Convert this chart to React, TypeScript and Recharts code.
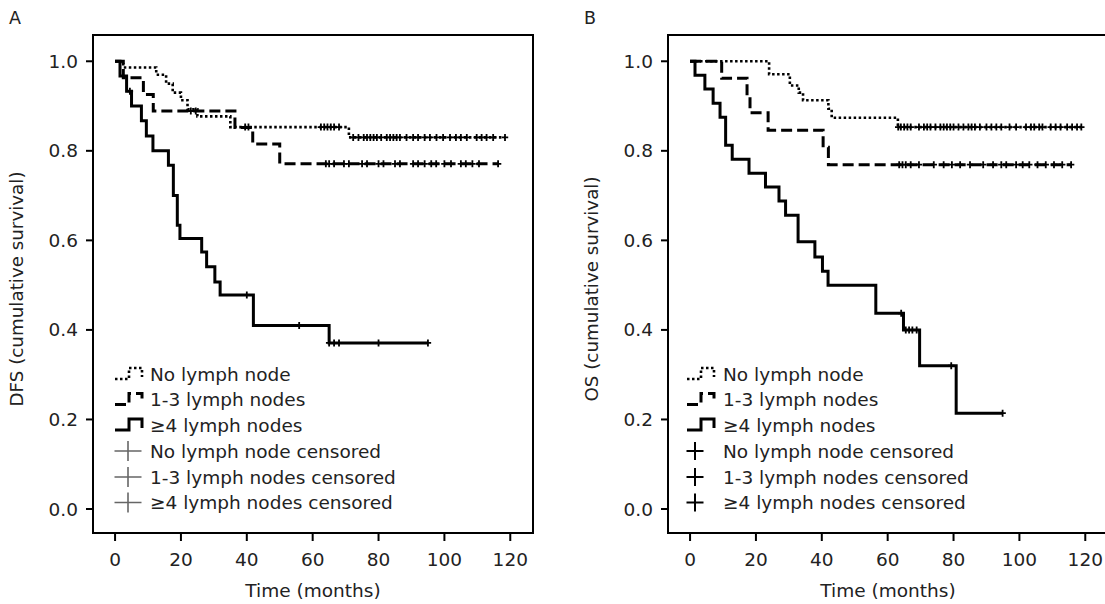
import React from 'react';
import { ComposedChart, Line, Scatter, XAxis, YAxis, ReferenceArea } from 'recharts';

type Step = [number, number];

// ---------- data ----------
const xTicks = [0, 20, 40, 60, 80, 100, 120];
const yTicks = [0, 0.2, 0.4, 0.6, 0.8, 1.0];
const groupLabels = ['No lymph node', '1-3 lymph nodes', '\u22654 lymph nodes'];
const censorLabels = ['No lymph node censored', '1-3 lymph nodes censored', '\u22654 lymph nodes censored'];

// Panel A: DFS
const dfsNone: Step[] = [[0, 1], [2.5, 0.986], [12.5, 0.97], [15.5, 0.95], [17.5, 0.93], [20, 0.913], [22, 0.893], [25, 0.877], [35, 0.853], [71, 0.83], [118.4, 0.83]];
const dfsOne: Step[] = [[0, 1], [2.5, 0.963], [8.6, 0.926], [11.6, 0.889], [36.4, 0.852], [41.8, 0.815], [50, 0.771], [116.3, 0.771]];
const dfsFour: Step[] = [[0, 1], [1.5, 0.967], [3.5, 0.933], [5, 0.9], [8, 0.867], [9.5, 0.833], [11.5, 0.8], [16.2, 0.768], [17.7, 0.7], [18.9, 0.634], [19.7, 0.604], [26.3, 0.574], [27.8, 0.541], [30.3, 0.507], [31.9, 0.478], [42, 0.41], [65, 0.371], [95, 0.371]];
const dfsNoneCensor = [39.5, 40.5, 62.5, 63.5, 64.5, 65.5, 66.5, 68, 72.3, 73.9, 75.5, 76.5, 77.5, 78.5, 79.5, 80.8, 82.5, 83.5, 84.5, 85.5, 86.5, 88.5, 90.5, 92, 94, 95.6, 97.6, 99.6, 101.7, 103.5, 105, 106.8, 109.8, 111.3, 112.8, 114.8, 118.4];
const dfsOneCensor = [23, 24.5, 64, 65, 66.5, 69.5, 71, 75, 76.5, 80, 81.5, 85, 86.5, 90.5, 92, 94, 96, 97.5, 100, 102, 105, 106.5, 108.5, 110.5, 116.3];
const dfsFourCensor = [4.5, 40, 55.9, 65, 66.5, 68, 80, 95];

// Panel B: OS
const osNone: Step[] = [[0, 1], [24, 0.971], [30.3, 0.946], [33, 0.93], [34.3, 0.913], [42, 0.894], [43, 0.874], [63.1, 0.853], [118.8, 0.853]];
const osOne: Step[] = [[0, 1], [9.6, 0.962], [17.3, 0.923], [18.2, 0.885], [23.7, 0.846], [40.4, 0.808], [42, 0.769], [115.7, 0.769]];
const osFour: Step[] = [[0, 1], [1.5, 0.969], [4.5, 0.938], [7, 0.906], [9.1, 0.875], [10.8, 0.8125], [12.8, 0.781], [17.9, 0.75], [22.9, 0.719], [27, 0.688], [29, 0.656], [32.8, 0.597], [37.9, 0.563], [40.2, 0.531], [41.9, 0.5], [56.4, 0.437], [64.8, 0.4], [69.7, 0.32], [80.8, 0.214], [94.9, 0.214]];
const osNoneCensor = [63.2, 64, 65, 66, 67, 69.5, 71, 72, 73, 74.5, 76, 77, 78, 79, 80, 81.5, 83, 84.5, 85.5, 86.5, 88, 90, 91.5, 93, 94.5, 97, 99, 102, 103.5, 104.5, 106, 107, 109.5, 111, 112.5, 114.5, 116, 117.5, 118.8];
const osOneCensor = [63.5, 64.5, 65.5, 67, 69.5, 74, 77, 79.5, 82, 85, 89, 92, 94.5, 96, 99, 101, 103, 105.5, 108, 110.5, 113, 115.7];
const osFourCensor = [64.1, 65.5, 66.5, 67.5, 68.8, 79.3, 94.9];

// ---------- helpers ----------
const toPts = (steps: Step[]) => steps.map(([t, s]) => ({ t, s }));
const levelAt = (steps: Step[], t: number) => {
  let s = steps[0][1];
  for (const [tt, ss] of steps) if (tt <= t) s = ss;
  return s;
};
const censorPts = (steps: Step[], times: number[]) => times.map((t) => ({ t, s: levelAt(steps, t) }));

const FONT = '"DejaVu Sans", "Liberation Sans", Arial, sans-serif';
const TXT = '#222';
const X_DOMAIN: [number, number] = [-6.7, 126.9];
const Y_DOMAIN: [number, number] = [-0.0536, 1.0587];
const W = 553;
const H = 604;

const lineStyles = [
  { dash: '2.5 2.5', width: 2.6 },
  { dash: '11 5', width: 3 },
  { dash: undefined as string | undefined, width: 3 },
];

const Cross = (props: any) => {
  const { cx, cy } = props;
  if (cx == null || cy == null) return null;
  return (
    <path d={`M${cx - 3.2},${cy} H${cx + 3.2} M${cx},${cy - 3.5} V${cy + 3.5}`} stroke="#000" strokeWidth={1.8} fill="none" />
  );
};

type PanelProps = {
  left: number;
  letter: string;
  yTitle: string;
  curves: Step[][];
  censors: number[][];
  legend: { iconX: number; textX: number; crossX: number; crossHalfW: number; crossHalfH: number; crossColor: string; crossWidth: number };
};

const legendRows = [374, 399.5, 425, 451, 477, 502.5];

const Panel = ({ left, letter, yTitle, curves, censors, legend }: PanelProps) => {
  return (
    <div style={{ position: 'absolute', left, top: 0, width: W, height: H }}>
      <ComposedChart width={W} height={H} margin={{ top: 35, right: 20, bottom: 31, left: 33 }}>
        <XAxis
          type="number"
          dataKey="t"
          domain={X_DOMAIN}
          ticks={xTicks}
          interval={0}
          allowDataOverflow
          height={40}
          tickSize={8}
          tickMargin={12}
          axisLine={{ stroke: '#000', strokeWidth: 2 }}
          tickLine={{ stroke: '#000', strokeWidth: 2 }}
          tick={{ fill: TXT, fontSize: 18.5, fontFamily: FONT }}
        />
        <YAxis
          type="number"
          dataKey="s"
          domain={Y_DOMAIN}
          ticks={yTicks}
          interval={0}
          allowDataOverflow
          width={60}
          tickSize={7}
          tickMargin={8}
          tickFormatter={(v: number) => v.toFixed(1)}
          axisLine={{ stroke: '#000', strokeWidth: 2 }}
          tickLine={{ stroke: '#000', strokeWidth: 2 }}
          tick={{ fill: TXT, fontSize: 18.5, fontFamily: FONT }}
        />
        <ReferenceArea x1={X_DOMAIN[0]} x2={X_DOMAIN[1]} y1={Y_DOMAIN[0]} y2={Y_DOMAIN[1]} fill="none" fillOpacity={0} stroke="#000" strokeWidth={2} ifOverflow="visible" />
        {curves.map((c, i) => (
          <Line
            key={'l' + i}
            data={toPts(c)}
            dataKey="s"
            type="stepAfter"
            stroke="#000"
            strokeWidth={lineStyles[i].width}
            strokeDasharray={lineStyles[i].dash}
            strokeLinecap="butt"
            dot={false}
            activeDot={false}
            isAnimationActive={false}
          />
        ))}
        {censors.map((times, i) => (
          <Scatter key={'c' + i} data={censorPts(curves[i], times)} dataKey="s" shape={<Cross />} isAnimationActive={false} />
        ))}
      </ComposedChart>
      <svg width={W} height={H} style={{ position: 'absolute', left: 0, top: 0, pointerEvents: 'none' }}>
        <text x={9} y={24} fontSize={17.5} fontFamily={FONT} fill={TXT}>{letter}</text>
        <text
          x={0}
          y={0}
          transform={`translate(23,289) rotate(-90)`}
          textAnchor="middle"
          fontSize={18.3}
          fontFamily={FONT}
          fill={TXT}
        >
          {yTitle}
        </text>
        <text x={313} y={597} textAnchor="middle" fontSize={18.5} fontFamily={FONT} fill={TXT}>Time (months)</text>
        {groupLabels.map((lab, i) => {
          const y = legendRows[i];
          const x0 = legend.iconX;
          return (
            <g key={'g' + i}>
              <path
                d={`M${x0},${y + 5} H${x0 + 14} V${y - 6} H${x0 + 27} V${y + 3}`}
                stroke="#000"
                strokeWidth={lineStyles[i].width}
                strokeDasharray={lineStyles[i].dash}
                fill="none"
              />
              <text x={legend.textX} y={y + 6.5} fontSize={18.5} fontFamily={FONT} fill={TXT}>{lab}</text>
            </g>
          );
        })}
        {censorLabels.map((lab, i) => {
          const y = legendRows[i + 3];
          const cx = legend.crossX;
          return (
            <g key={'k' + i}>
              <path
                d={`M${cx - legend.crossHalfW},${y} H${cx + legend.crossHalfW} M${cx},${y - legend.crossHalfH} V${y + legend.crossHalfH}`}
                stroke={legend.crossColor}
                strokeWidth={legend.crossWidth}
                fill="none"
              />
              <text x={legend.textX} y={y + 6.5} fontSize={18.5} fontFamily={FONT} fill={TXT}>{lab}</text>
            </g>
          );
        })}
      </svg>
    </div>
  );
};

export default function App() {
  return (
    <div style={{ position: 'absolute', left: 0, top: 0, width: 1105, height: 604, overflow: 'hidden', background: '#fff' }}>
      <Panel
        left={0}
        letter="A"
        yTitle="DFS (cumulative survival)"
        curves={[dfsNone, dfsOne, dfsFour]}
        censors={[dfsNoneCensor, dfsOneCensor, dfsFourCensor]}
        legend={{ iconX: 115, textX: 150, crossX: 128, crossHalfW: 13.5, crossHalfH: 10, crossColor: '#666', crossWidth: 1.6 }}
      />
      <Panel
        left={575}
        letter="B"
        yTitle="OS (cumulative survival)"
        curves={[osNone, osOne, osFour]}
        censors={[osNoneCensor, osOneCensor, osFourCensor]}
        legend={{ iconX: 112, textX: 148, crossX: 120, crossHalfW: 8.5, crossHalfH: 9, crossColor: '#000', crossWidth: 2 }}
      />
    </div>
  );
}
